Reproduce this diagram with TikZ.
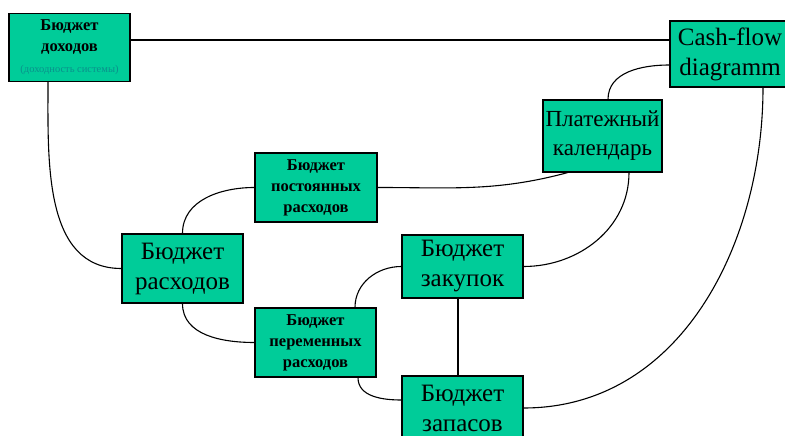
\documentclass[tikz,border=0pt]{standalone}
\usepackage{fontspec}
\setmainfont{Liberation Serif}
\usetikzlibrary{positioning}
\definecolor{boxgreen}{RGB}{0,204,153}
\definecolor{notecyan}{RGB}{10,145,140}
\tikzset{bigbox/.style={rectangle,draw=black,fill=boxgreen,line width=1.3pt,align=center,inner sep=0pt,
		font=\fontsize{25}{30}\selectfont},
	 smallbox/.style={rectangle,draw=black,fill=boxgreen,line width=1.3pt,align=center,inner sep=0pt,
		font=\bfseries\fontsize{16.5}{21}\selectfont},
	 link/.style={line width=1.1pt}
	 }

\begin{document}
\begin{tikzpicture}[x=1pt,y=1pt] % budgets
	\clip (0,0) rectangle (785,436);
        \node[smallbox,minimum width=121pt,minimum height=68pt] (dohod) at (69.5,388.5)
		{Бюджет\\доходов\\{\mdseries\color{notecyan}\fontsize{10.5}{12}\selectfont(доходность системы)}};
        \node[bigbox,minimum width=120pt,minimum height=66pt] (cash) at (730,382) {Cash-flow\\diagramm};
        \node[bigbox,minimum width=119pt,minimum height=72pt,font=\fontsize{23}{29}\selectfont] (plat) at (602.5,300) {Платежный\\календарь};
        \node[smallbox,minimum width=122pt,minimum height=69pt] (post) at (316,248.5) {Бюджет\\постоянных\\расходов};
        \node[bigbox,minimum width=121pt,minimum height=69pt] (rash) at (182.5,167.5) {Бюджет\\расходов};
        \node[bigbox,minimum width=121pt,minimum height=63pt] (zak) at (462.5,169.5) {Бюджет\\закупок};
        \node[smallbox,minimum width=121pt,minimum height=69pt] (perem) at (315.5,93.5) {Бюджет\\переменных\\расходов};
        \node[bigbox,minimum width=121pt,minimum height=64pt] (zap) at (462.5,28) {Бюджет\\запасов};
	\draw[link] ([yshift=7.5pt]dohod.east) -- ([yshift=7.5pt]dohod.east -| cash.west);
	\draw[link] ([xshift=-21.5pt]dohod.south) to[out=-90,in=180] (rash.west);
	\draw[link] (rash.north) to[out=90,in=180] (post.west);
	\draw[link] (post.east) to[out=0,in=195] ([xshift=-35pt]plat.south);
	\draw[link] ([xshift=5.5pt]plat.north) to[out=90,in=180] ([yshift=-11pt]cash.west);
	\draw[link] ([xshift=26.5pt]plat.south) to[out=-90,in=0] (zak.east);
	\draw[link] ([xshift=33pt]cash.south) to[out=-90,in=0] (zap.east);
	\draw[link] ([xshift=-4.5pt]zak.south) -- ([xshift=-4.5pt]zap.north);
	\draw[link] (zak.west) to[out=180,in=90] ([xshift=39.5pt]perem.north);
	\draw[link] (rash.south) to[out=-90,in=180] (perem.west);
	\draw[link] ([xshift=42.5pt]perem.south) to[out=-90,in=180] ([yshift=8pt]zap.west);
     \end{tikzpicture}
\end{document}
